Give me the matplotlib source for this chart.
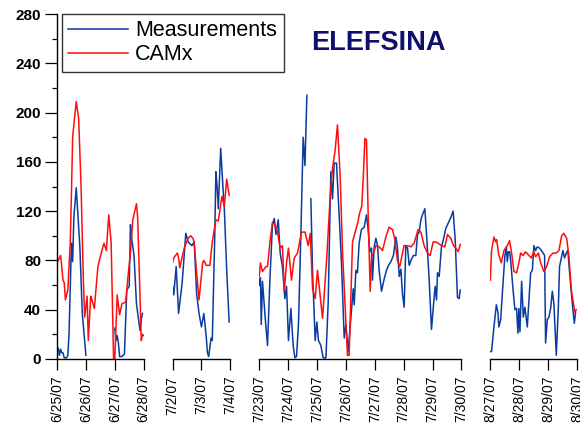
import numpy as np
import matplotlib
matplotlib.use("Agg")
import matplotlib.pyplot as plt
from matplotlib.lines import Line2D

# Hourly ozone at Elefsina, four campaign periods.
# Times are hours counted from midnight of the first day of each period;
# nan marks a break in the measurements.

# ---- period 1: 6/25/07 - 6/28/07 ----
p1_dates = ["6/25/07", "6/26/07", "6/27/07", "6/28/07"]
p1_meas_h = [0, 1, 2, 3, 4, 5, 6, 8, 9, 10, 12, 13, 14, 16, 19, 21, 24,
             36,
             48, 49, 50, 51, 52, 54, 56, 58, 60, 61, 62, 64, 66, 69, 70, 71]
p1_meas = [7, 9, 3, 8, 5, 5, 1, 1, 3, 20, 94, 79, 115, 139, 91, 37, 3,
           np.nan,
           25, 15, 19, 13, 2, 2, 4, 56, 59, 109, 98, 84, 45, 23, 32, 37]
p1_camx_h = [0, 1, 3, 5, 6, 7, 9, 11, 12, 13, 15, 16, 18, 20, 22, 23, 25, 26,
             28, 29, 31, 34, 37, 39, 41, 43, 45, 47, 48, 50, 52, 54, 57, 59,
             61, 63, 66, 67, 69, 70, 71, 72]
p1_camx = [78, 80, 84, 64, 62, 48, 56, 94, 134, 180, 200, 209, 195, 140, 60,
           34, 51, 15, 51, 48, 41, 75, 87, 94, 88, 117, 94, 0, 0, 52, 36, 45,
           46, 67, 86, 113, 126, 115, 50, 15, 20, 19]

# ---- period 2: 7/2/07 - 7/4/07 ----
p2_dates = ["7/2/07", "7/3/07", "7/4/07"]
p2_meas_h = [0, 1, 3, 5, 8, 11, 13, 16, 18, 20, 22, 24, 26, 28, 29, 30, 32,
             33, 35, 36, 37, 38, 40, 42, 43, 45, 47]
p2_meas = [59, 52, 75, 37, 62, 102, 95, 92, 95, 53, 37, 26, 37, 18, 5, 2, 17,
           15, 97, 152, 140, 122, 171, 137, 122, 72, 30]
p2_camx_h = [0, 1, 4, 5, 6, 8, 10, 13, 15, 17, 18, 20, 22, 25, 26, 28, 31,
             33, 36, 38, 41, 43, 45, 47]
p2_camx = [78, 82, 86, 82, 74, 83, 91, 98, 100, 98, 94, 70, 48, 78, 80, 76,
           76, 95, 113, 112, 132, 124, 146, 133]

# ---- period 3: 7/23/07 - 7/30/07 ----
p3_dates = ["7/23/07", "7/24/07", "7/25/07", "7/26/07", "7/27/07", "7/28/07",
            "7/29/07", "7/30/07"]
p3_meas_h = [0, 1, 1.7, 2.7, 5, 6.9, 8.9, 11, 12.5, 13.9, 15.8, 17.4, 19.3,
             21.3, 22.7, 24.3, 26.3, 28.2, 29.6, 31, 32.6, 34.6, 36.5, 38,
             39.6, 41, 42.9, 44.3, 46.5, 47.9, 49.2, 51.2, 53.1, 55.4, 57.3,
             59.5, 60.9, 62.3, 64.2, 66.4, 68.3, 70.6, 72, 73.9, 76.1, 78.1,
             78.9, 80.3, 81.6, 83, 84.9, 87.2, 89.1, 90.5, 91.9, 93.3, 94.1,
             95.5, 96.9, 98.3, 99.6, 101.6, 103.8, 105.7, 107.4, 109.4, 111.5,
             113.5, 114.8, 116.3, 117.7, 119, 120.4, 121.8, 123.2, 124.6, 126,
             128.1, 130.1, 131.5, 132.9, 134.3, 135.6, 137.6, 139.3, 141.2,
             143.1, 144.8, 146.2, 147.3, 148.1, 149.5, 151.4, 153, 155, 156.9,
             159.2, 161.1, 162.8, 164.7, 166.1, 167]
p3_meas = [60, 66, 28, 63, 33, 11, 65, 109, 114, 101, 113, 86, 75, 49, 59, 15,
           41, 11, 1, 2, 28, 101, 180, 157, 214, np.nan, 130, 71, 15, 30, 15,
           11, 1, 1, 46, 152, 130, 159, 159, 117, 79, 17, 28, 6, 33, 57, 44,
           72, 70, 94, 105, 107, 117, 105, 87, 90, 64, 91, 98, 92, 72, 55, 65,
           72, 76, 79, 84, 99, 91, 67, 73, 53, 42, 92, 90, 76, 80, 84, 84, 101,
           103, 113, 117, 122, 97, 64, 24, 44, 59, 48, 70, 67, 91, 97, 106, 110,
           115, 120, 97, 50, 49, 56]
p3_camx_h = [0, 1, 2.7, 5.6, 6.9, 8.9, 11, 13, 15.2, 17.4, 19.3, 20.8, 22.7,
             24.3, 26.8, 29.1, 31.8, 35.1, 38, 40.7, 42.4, 44.3, 46.5, 48.4,
             52.6, 56.1, 59, 60.9, 62.9, 65, 67.3, 69.2, 71.2, 73.3, 74.7,
             77.5, 80.3, 82.2, 83, 85.2, 86.6, 87.8, 89.1, 90.5, 92.2, 93.3,
             95, 96.9, 99.6, 102.4, 105.2, 107.9, 110.7, 112.7, 114.8, 116.8,
             118.6, 120.4, 123.2, 126, 128.7, 132, 134.3, 137, 139.8, 142,
             144.5, 146.7, 148.6, 151.4, 154.2, 156.4, 159.2, 161.4, 163.4,
             165.3, 167]
p3_camx = [67, 78, 71, 75, 75, 95, 111, 109, 103, 90, 92, 55, 78, 90, 64, 82,
           86, 103, 103, 92, 102, 57, 49, 72, 33, 82, 133, 155, 168, 190, 147,
           87, 46, 3, 3, 95, 105, 112, 117, 124, 151, 179, 178, 118, 55, 83,
           86, 92, 91, 88, 99, 107, 105, 97, 80, 75, 84, 92, 92, 91, 94, 105,
           103, 92, 86, 84, 95, 95, 94, 92, 91, 101, 98, 92, 90, 87, 93]

# ---- period 4: 8/27/07 - 8/30/07 ----
p4_dates = ["8/27/07", "8/28/07", "8/29/07", "8/30/07"]
p4_meas_h = [0, 1, 3, 5, 6.3, 7.1, 8.6, 10.5, 12.1, 13.3, 14.1, 14.9, 16,
             16.9, 18.8, 20.4, 21.8, 22.9, 23.7, 24.6, 26, 27.4, 28.7, 30.7,
             32.1, 33.5, 34.9, 36.2, 37.6, 39, 40.9, 43.2, 45.1, 45.9, 47.3,
             48.7, 50.1, 51.5, 52.8, 54.8, 56.5, 57.5, 59.2, 60.3, 61.7, 63.1,
             64.4, 66.1, 68.1, 69.8, 70.8]
p4_meas = [6, 6, 26, 44, 38, 26, 32, 61, 84, 91, 79, 87, 87, 80, 57, 40, 41,
           21, 41, 22, 63, 34, 42, 26, 48, 70, 72, 92, 88, 91, 90, 87, 84, 13,
           32, 34, 41, 55, 45, 3, 42, 75, 83, 88, 82, 86, 88, 67, 45, 29, 38]
p4_camx_h = [0, 1, 3, 4.4, 5.2, 7.1, 9.1, 11.3, 14.1, 16, 17.7, 19.6, 21.8,
             23.7, 25.2, 27.1, 29.3, 32.1, 34, 36.2, 37.6, 39.9, 41.8, 44.5,
             46.8, 49.2, 52, 54.8, 57, 59.2, 61.1, 63.4, 65.3, 67.3, 68.9,
             70.2, 71.4]
p4_camx = [64, 88, 99, 95, 97, 84, 78, 88, 92, 96, 86, 71, 70, 78, 86, 84, 87,
           84, 82, 87, 83, 86, 78, 71, 75, 83, 86, 86, 88, 100, 102, 98, 83,
           56, 46, 38, 40]

periods = [
    (p1_dates, p1_meas_h, p1_meas, p1_camx_h, p1_camx),
    (p2_dates, p2_meas_h, p2_meas, p2_camx_h, p2_camx),
    (p3_dates, p3_meas_h, p3_meas, p3_camx_h, p3_camx),
    (p4_dates, p4_meas_h, p4_meas, p4_camx_h, p4_camx),
]

BLUE = "#0a3ca0"
RED = "#ff0d0d"

plt.rcParams["font.family"] = ["Liberation Sans", "DejaVu Sans"]

W, H = 580, 434
fig = plt.figure(figsize=(W / 100, H / 100), dpi=100)

ndays = [len(p[0]) - 1 for p in periods]
gs = fig.add_gridspec(
    1, 4, width_ratios=ndays, wspace=1 / (sum(ndays) / 4),
    left=57 / W, right=577 / W, top=1 - 14 / H, bottom=1 - 359 / H,
)

for i, (dates, mh, mv, ch, cv) in enumerate(periods):
    ax = fig.add_subplot(gs[0, i])
    ax.plot(np.array(mh) / 24, mv, color=BLUE, lw=1.1)
    ax.plot(np.array(ch) / 24, cv, color=RED, lw=1.1)

    ax.set_xlim(0, ndays[i])
    ax.set_ylim(0, 280)
    ax.set_xticks(range(ndays[i] + 1))
    ax.set_xticklabels(dates, rotation=90, fontsize=10)

    for side in ("top", "right"):
        ax.spines[side].set_visible(False)
    ax.spines["bottom"].set_linewidth(1.0)
    ax.tick_params(axis="x", direction="out", length=8, width=0.9, pad=4)

    if i == 0:
        ax.spines["left"].set_linewidth(1.0)
        ax.set_yticks(range(0, 281, 40))
        ax.set_yticks(range(20, 281, 40), minor=True)
        ax.tick_params(axis="y", which="major", direction="out", length=8.5,
                       width=0.9, pad=3, labelsize=11)
        ax.tick_params(axis="y", which="minor", direction="out", length=3.5,
                       width=0.9)
        for lab in ax.get_yticklabels():
            lab.set_fontweight("bold")
    else:
        ax.spines["left"].set_visible(False)
        ax.set_yticks([])

handles = [Line2D([], [], color=BLUE, lw=1.1), Line2D([], [], color=RED, lw=1.1)]
leg = fig.legend(handles, ["Measurements", "CAMx"], loc="upper left",
                 bbox_to_anchor=(62 / W, 1 - 14 / H), fontsize=15.5,
                 frameon=True, fancybox=False, borderpad=0.3,
                 labelspacing=0.12, handlelength=2.75, handletextpad=0.35,
                 borderaxespad=0)
leg.get_frame().set_edgecolor("black")
leg.get_frame().set_linewidth(1.0)

fig.text(378.7 / W, 1 - 43 / H, "ELEFSINA", ha="center", va="center",
         fontsize=19.5, fontweight="bold", color="#0f0f6e")

fig.savefig("out.png", dpi=100)
